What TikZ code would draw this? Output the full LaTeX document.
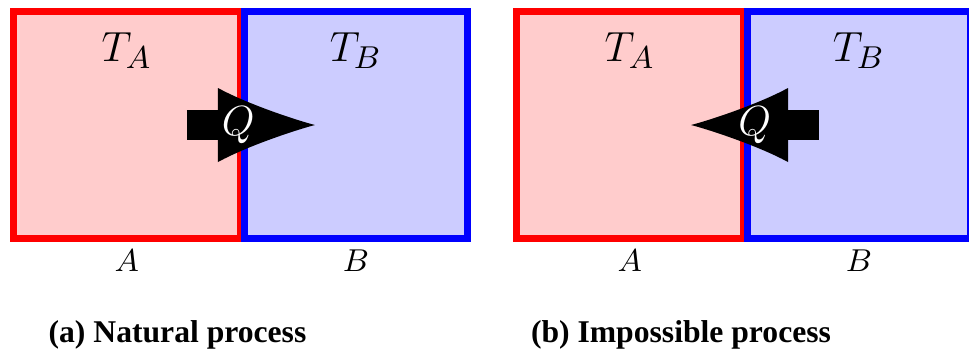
\documentclass[tikz,border=0pt]{standalone}
\usepackage{fontspec}
\newfontfamily\capfont{Liberation Serif}
\usepackage{tikz}
\usetikzlibrary{arrows.meta,positioning}
\tikzset{
  hotbox/.style={draw=red, fill=red!20, line width=0.7mm,
    minimum width=2.267cm, minimum height=2.27cm},
  coldbox/.style={draw=blue, fill=blue!20, line width=0.7mm,
    minimum width=2.233cm, minimum height=2.27cm},
  heatarrow/.style={line width=3mm,
    -{Latex[length=9.7mm, width=7.4mm, line width=0pt]}},
  heatlabel/.style={text=white, font=\fontsize{12.5}{15}\selectfont},
  templabel/.style={font=\fontsize{12.5}{15}\selectfont, anchor=base},
  sidelabel/.style={font=\fontsize{9}{11}\selectfont, anchor=base},
  caplabel/.style={font=\capfont\bfseries\fontsize{9}{11}\selectfont, anchor=base},
}
\begin{document}
\begin{tikzpicture}
  \useasboundingbox (0,0) rectangle (9.69,3.51);

  % (a) natural process
  \node[hotbox] (hotA) at (1.2685,2.26) {};
  \node[coldbox, right=-0.03cm of hotA] (coldA) {};
  \node[templabel] (tempA) at ([yshift=-5.37mm]hotA.north) {$T_A$};
  \node[templabel] (tempB) at ([yshift=-5.37mm]coldA.north) {$T_B$};
  \node[sidelabel] (sideA) at ([yshift=-2.97mm]hotA.south) {$A$};
  \node[sidelabel] (sideB) at ([yshift=-2.97mm]coldA.south) {$B$};
  \coordinate (srcA) at (1.87,2.26);
  \coordinate (dstA) at (3.15,2.26);
  \draw[heatarrow] (srcA) -- node[heatlabel, pos=0.4] {$Q$} (dstA);
  \node[caplabel] (capA) at (1.775,0.09) {(a) Natural process};

  % (b) impossible process
  \node[hotbox] (hotB) at (6.2985,2.26) {};
  \node[coldbox, right=-0.03cm of hotB] (coldB) {};
  \node[templabel] (tempC) at ([yshift=-5.37mm]hotB.north) {$T_A$};
  \node[templabel] (tempD) at ([yshift=-5.37mm]coldB.north) {$T_B$};
  \node[sidelabel] (sideC) at ([yshift=-2.97mm]hotB.south) {$A$};
  \node[sidelabel] (sideD) at ([yshift=-2.97mm]coldB.south) {$B$};
  \coordinate (srcB) at (8.185,2.26);
  \coordinate (dstB) at (6.91,2.26);
  \draw[heatarrow] (srcB) -- node[heatlabel, pos=0.5] {$Q$} (dstB);
  \node[caplabel] (capB) at (6.81,0.09) {(b) Impossible process};
\end{tikzpicture}
\end{document}
